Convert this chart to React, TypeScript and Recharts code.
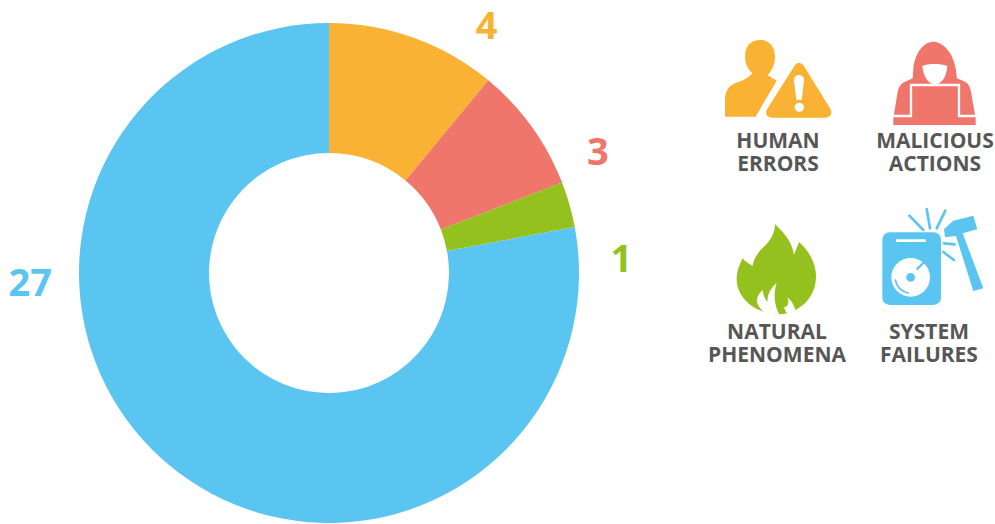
import { PieChart, Pie, Cell } from "recharts";

const categories = ["Human errors", "Malicious actions", "Natural phenomena", "System failures"];
// printed counts
const counts = [4, 3, 1, 27];
// slice sizes as drawn in the picture (measured in degrees of the ring)
const sliceDegrees = [39.6, 29.2, 10.6, 280.6];
const colors = ["#F9B233", "#F0756B", "#95C11F", "#5BC5F2"];

const data = categories.map((name, i) => ({ name, degrees: sliceDegrees[i], count: counts[i] }));

const FONT = "'Open Sans', sans-serif";
const TEXT = "#575756";

// where the count sits relative to the slice's outer edge
const labelShift = [
  [73, -14],
  [66, 23],
  [52, 52],
  [-139, -184],
];

function renderCount(props: any) {
  const { cx, cy, midAngle, outerRadius, index } = props;
  const a = (midAngle * Math.PI) / 180;
  const x = cx + outerRadius * Math.cos(a) + labelShift[index][0];
  const y = cy - outerRadius * Math.sin(a) + labelShift[index][1];
  return (
    <text
      x={x}
      y={y}
      textAnchor="middle"
      dominantBaseline="central"
      fill={colors[index]}
      style={{ fontFamily: FONT, fontWeight: 700, fontSize: 38 }}
    >
      {counts[index]}
    </text>
  );
}

function Caption({ x, y, lines }: { x: number; y: number; lines: string[] }) {
  return (
    <text
      textAnchor="middle"
      fill={TEXT}
      style={{ fontFamily: FONT, fontWeight: 700, fontSize: 21 }}
    >
      <tspan x={x} y={y}>{lines[0]}</tspan>
      <tspan x={x} y={y + 23}>{lines[1]}</tspan>
    </text>
  );
}

function Icons() {
  return (
    <svg width={995} height={524} style={{ position: "absolute", left: 0, top: 0 }}>
      {/* person + warning */}
      <g transform="translate(695,20) scale(0.3333)">
        <path fill={colors[0]} d="M150 110C150 75 170 60 195 60C222 60 240 80 240 110C240 135 228 155 218 165L245 182L182 290L90 290L90 240C90 215 100 198 120 190C140 183 160 175 172 160C158 145 150 130 150 110Z" />
        <path fill={colors[0]} d="M312 128C320 128 325 135 330 143L405 265C415 282 405 293 390 293L232 293C215 293 208 280 218 265L295 143C300 135 304 128 312 128Z" />
        <path fill="#fff" d="M312 165C322 165 328 172 327 182L320 240L304 240L297 182C296 172 302 165 312 165Z" />
        <circle cx={313} cy={262} r={14} fill="#fff" />
      </g>
      {/* hooded figure */}
      <g transform="translate(885,35) scale(0.3333)">
        <path fill={colors[1]} d="M145 20C175 20 205 55 212 100L216 130L240 140C250 145 255 155 258 170L272 250L272 270L25 270L25 250L38 170C41 155 48 145 60 140L83 130L85 100C90 55 115 20 145 20Z" />
        <path fill="#fff" d="M112 93C130 85 165 85 187 93C185 125 170 148 150 148C130 148 115 125 112 93Z" />
        <path fill="none" stroke="#fff" strokeWidth={7} d="M25 243L78 243L78 150L222 150L222 243L272 243" />
      </g>
      {/* flame */}
      <g transform="translate(730,220) scale(0.3333)">
        <path fill={colors[2]} d="M135 12C150 30 185 55 192 105C197 90 203 78 207 66C235 90 260 130 258 175C255 225 225 262 175 280L140 284L105 276C60 265 20 225 20 178C20 155 28 135 38 115C45 125 55 130 68 138C72 110 90 90 110 72C125 55 135 35 135 12Z" />
        <path fill="#fff" d="M140 190C125 200 110 225 113 245C105 240 100 225 98 210C85 222 78 235 82 250C85 260 92 268 105 278L150 286C135 262 128 225 140 190Z" />
        <path fill="#fff" d="M172 232C180 250 172 262 162 262C165 272 170 280 174 284L197 272C192 258 188 245 172 232Z" />
      </g>
      {/* broken drive */}
      <g transform="translate(870,200) scale(0.3333)">
        <rect x={37} y={97} width={176} height={218} rx={22} fill={colors[3]} />
        <rect x={78} y={118} width={90} height={8} rx={4} fill="#fff" />
        <circle cx={122} cy={232} r={58} fill="#fff" />
        <circle cx={122} cy={232} r={13} fill={colors[3]} />
        <line x1={140} y1={208} x2={163} y2={186} stroke={colors[3]} strokeWidth={7} />
        <path fill="none" stroke={colors[3]} strokeWidth={5} strokeLinecap="round" d="M76 240A47 47 0 0 0 115 279" />
        <path fill={colors[3]} d="M222 88L250 62L310 47L322 88L278 100L340 265L310 273L258 108L225 112Z" />
        <g stroke={colors[3]} strokeWidth={8} strokeLinecap="round">
          <line x1={118} y1={47} x2={160} y2={90} />
          <line x1={170} y1={27} x2={180} y2={85} />
          <line x1={226} y1={32} x2={200} y2={85} />
          <line x1={222} y1={130} x2={254} y2={133} />
          <line x1={220} y1={156} x2={252} y2={180} />
        </g>
      </g>
      <Caption x={778} y={148} lines={["HUMAN", "ERRORS"]} />
      <Caption x={935} y={148} lines={["MALICIOUS", "ACTIONS"]} />
      <Caption x={777} y={339} lines={["NATURAL", "PHENOMENA"]} />
      <Caption x={929} y={339} lines={["SYSTEM", "FAILURES"]} />
    </svg>
  );
}

export default function App() {
  return (
    <div style={{ position: "absolute", left: 0, top: 0, width: 995, height: 524, overflow: "hidden", background: "#fff" }}>
      <PieChart width={995} height={524} margin={{ top: 0, right: 0, bottom: 0, left: 0 }}>
        <Pie
          data={data}
          dataKey="degrees"
          nameKey="name"
          cx={329}
          cy={273}
          innerRadius={120}
          outerRadius={250}
          startAngle={90}
          endAngle={-270}
          paddingAngle={0}
          stroke="none"
          label={renderCount}
          labelLine={false}
          isAnimationActive={false}
        >
          {data.map((d, i) => (
            <Cell key={d.name} fill={colors[i]} />
          ))}
        </Pie>
      </PieChart>
      <Icons />
    </div>
  );
}
